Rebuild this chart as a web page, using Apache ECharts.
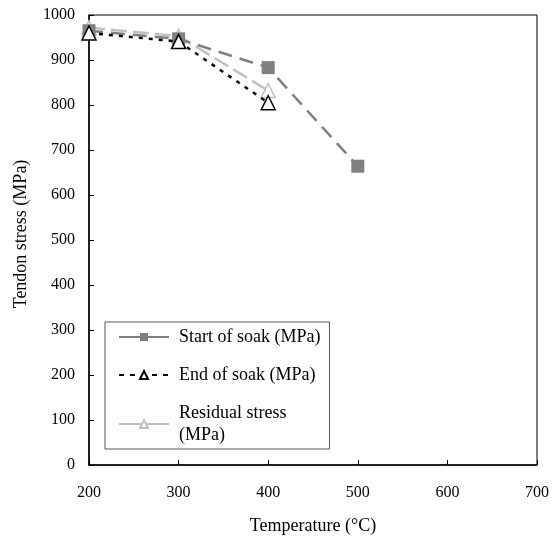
<!DOCTYPE html>
<html>
<head>
<meta charset="utf-8">
<script src="https://cdn.jsdelivr.net/npm/echarts@6/dist/echarts.min.js"></script>
<style>
  html, body { margin: 0; padding: 0; background: #fff; }
  #chart { width: 554px; height: 541px; }
</style>
</head>
<body>
<div id="chart"></div>
<script>
// temperatures (°C)
var temps = [200, 300, 400, 500]
// tendon stress (MPa)
var startSoak = [965, 947, 883, 664]
var endSoak = [960, 941, 805]
var residual = [972, 953, 832]

var font = 'Liberation Serif'

function pairs(vals) {
  return vals.map(function (v, i) { return [temps[i], v] })
}

var chart = echarts.init(document.getElementById('chart'))
chart.setOption({
  animation: false,
  backgroundColor: '#fff',
  textStyle: { fontFamily: font, color: '#000' },
  grid: {
    left: 89, right: 17, top: 15, bottom: 76,
    show: true, borderColor: '#000', borderWidth: 1
  },
  legend: {
    orient: 'vertical',
    left: 105, top: 322,
    padding: [4, 9, 3, 13],
    borderColor: '#555',
    borderWidth: 1,
    itemWidth: 50, itemHeight: 10,
    itemGap: 16,
    textStyle: { fontFamily: font, fontSize: 18, color: '#000', lineHeight: 22, padding: [0, 0, 0, 5] },
    formatter: function (name) {
      return name === 'Residual stress (MPa)' ? 'Residual stress\n(MPa)' : name
    },
    data: [
      { name: 'Start of soak (MPa)', lineStyle: { type: 'solid' } },
      { name: 'End of soak (MPa)', lineStyle: { type: [5, 6] } },
      { name: 'Residual stress (MPa)', lineStyle: { type: 'solid' } }
    ]
  },
  xAxis: {
    type: 'value',
    min: 200, max: 700, interval: 100,
    name: 'Temperature (°C)',
    nameLocation: 'middle',
    nameGap: 52,
    nameTextStyle: { fontFamily: font, fontSize: 18, color: '#000' },
    axisLine: { lineStyle: { color: '#000', width: 1.5 } },
    axisTick: { inside: true, length: 5, lineStyle: { color: '#000' } },
    axisLabel: { fontFamily: font, fontSize: 16, color: '#000', margin: 20 },
    splitLine: { show: false }
  },
  yAxis: {
    type: 'value',
    min: 0, max: 1000, interval: 100,
    name: 'Tendon stress (MPa)',
    nameLocation: 'middle',
    nameGap: 59,
    nameTextStyle: { fontFamily: font, fontSize: 18, color: '#000', padding: [0, 0, 0, 12] },
    axisLine: { show: true, lineStyle: { color: '#000', width: 1.5 } },
    axisTick: { show: true, inside: true, length: 5, lineStyle: { color: '#000' } },
    axisLabel: {
      fontFamily: font, fontSize: 16, color: '#000', margin: 14,
      formatter: function (v) { return String(v) }
    },
    splitLine: { show: false }
  },
  series: [
    {
      name: 'Start of soak (MPa)',
      type: 'line',
      data: pairs(startSoak),
      symbol: 'rect',
      symbolSize: 13,
      itemStyle: { color: '#808080' },
      lineStyle: { color: '#808080', width: 2.5, type: [14, 8] },
      z: 2
    },
    {
      name: 'End of soak (MPa)',
      type: 'line',
      data: pairs(endSoak),
      symbol: 'triangle',
      symbolSize: 14,
      itemStyle: { color: '#fff', borderColor: '#000', borderWidth: 1.5 },
      lineStyle: { color: '#000', width: 2.5, type: [4, 6] },
      z: 3
    },
    {
      name: 'Residual stress (MPa)',
      type: 'line',
      data: pairs(residual),
      symbol: 'triangle',
      symbolSize: 14,
      itemStyle: { color: '#fff', borderColor: '#c0c0c0', borderWidth: 1.5 },
      lineStyle: { color: '#c0c0c0', width: 2.5, type: [16, 6] },
      z: 1
    }
  ]
})
</script>
</body>
</html>
